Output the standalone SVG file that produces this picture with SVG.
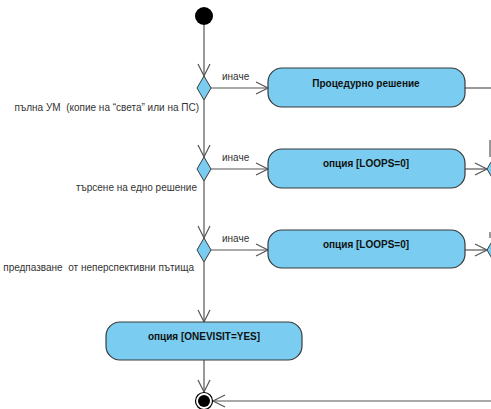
<svg xmlns="http://www.w3.org/2000/svg" width="491" height="409" viewBox="0 0 491 409">
<style>
.act{fill:#7acdf0;stroke:#3a3a3a;stroke-width:1.2}
.dec{fill:#7acdf0;stroke:#3a3a3a;stroke-width:1}
.ln{fill:none;stroke:#555;stroke-width:1.2}
.ah{fill:none;stroke:#555;stroke-width:1.2}
.bt{font-family:"Liberation Sans",Arial,sans-serif;font-size:10px;font-weight:bold;fill:#111;text-anchor:middle}
.lb{font-family:"Liberation Sans",Arial,sans-serif;font-size:10px;fill:#333;white-space:pre}
</style>
<rect width="491" height="409" fill="#fff"/>
<g id="connectors">
<path class="ln" d="M204 25V76"/><path class="ah" d="M198 64L204 76L210 64"/>
<path class="ln" d="M211 88H268"/><path class="ah" d="M256 82L268 88L256 94"/>
<path class="ln" d="M465 88H491"/>
<path class="ln" d="M204 100V157"/><path class="ah" d="M198 145L204 157L210 145"/>
<path class="ln" d="M211 169H268"/><path class="ah" d="M256 163L268 169L256 175"/>
<path class="ln" d="M465 169H487"/><path class="ah" d="M475 163L487 169L475 175"/>
<path class="ln" d="M490 140V157"/>
<path class="ln" d="M204 181V238"/><path class="ah" d="M198 226L204 238L210 226"/>
<path class="ln" d="M211 250H268"/><path class="ah" d="M256 244L268 250L256 256"/>
<path class="ln" d="M465 250H487"/><path class="ah" d="M475 244L487 250L475 256"/>
<path class="ln" d="M490 232V238"/>
<path class="ln" d="M204 262V322"/><path class="ah" d="M198 310L204 322L210 310"/>
<path class="ln" d="M204 360V392"/><path class="ah" d="M198 380L204 392L210 380"/>
<path class="ln" d="M491 401H213"/><path class="ah" d="M225 395L213 401L225 407"/>
</g>
<g id="start"><circle cx="204" cy="16" r="9" fill="#000"/></g>
<g id="dec1"><polygon class="dec" points="204,76 211,88 204,100 197,88"/>
<text class="lb" x="222" y="80">иначе</text>
<text class="lb" x="199" y="111" text-anchor="end" xml:space="preserve">пълна УМ  (копие на “света” или на ПС)</text></g>
<g id="dec2"><polygon class="dec" points="204,157 211,169 204,181 197,169"/>
<text class="lb" x="222" y="161">иначе</text>
<text class="lb" x="197" y="191" text-anchor="end">търсене на едно решение</text></g>
<g id="dec3"><polygon class="dec" points="204,238 211,250 204,262 197,250"/>
<text class="lb" x="222" y="242">иначе</text>
<text class="lb" x="194" y="271" text-anchor="end" xml:space="preserve">предпазване  от неперспективни пътища</text></g>
<g id="decR1"><polygon class="dec" points="494,157 501,169 494,181 487,169"/></g>
<g id="decR2"><polygon class="dec" points="494,238 501,250 494,262 487,250"/></g>
<g id="act1"><rect class="act" x="268" y="68" width="197" height="39" rx="14"/>
<text class="bt" x="366" y="87">Процедурно решение</text></g>
<g id="act2"><rect class="act" x="268" y="149" width="197" height="39" rx="14"/>
<text class="bt" x="366" y="167">опция [LOOPS=0]</text></g>
<g id="act3"><rect class="act" x="268" y="230" width="197" height="38" rx="14"/>
<text class="bt" x="366" y="248">опция [LOOPS=0]</text></g>
<g id="act4"><rect class="act" x="106" y="322" width="196" height="38" rx="14"/>
<text class="bt" x="204" y="340">опция [ONEVISIT=YES]</text></g>
<g id="end"><circle cx="204" cy="401" r="8.5" fill="#fff" stroke="#000" stroke-width="1.2"/><circle cx="204" cy="401" r="6" fill="#000"/></g>
</svg>
